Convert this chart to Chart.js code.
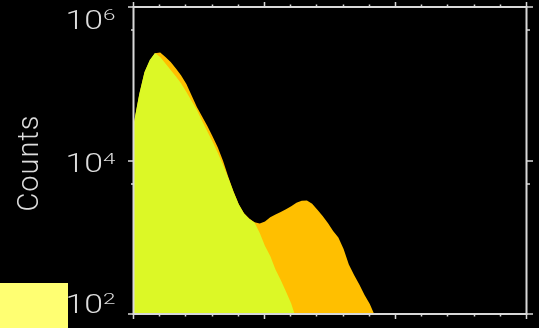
<!DOCTYPE html>
<html>
<head>
<meta charset="utf-8">
<script src="https://cdn.jsdelivr.net/npm/chart.js@4/dist/chart.umd.min.js"></script>
<style>
  html, body { margin: 0; padding: 0; background: #000; }
  canvas { display: block; }
</style>
</head>
<body>
<canvas id="hist" width="539" height="328"></canvas>
<script>
// Histogram channels (bin starts)
const channels = [0, 4, 8, 12, 16, 20, 24, 28, 32, 36, 40, 44, 48, 52, 56, 60, 64, 68, 72, 76,
  80, 84, 88, 92, 96, 100, 104, 108, 112, 116, 120, 124, 128, 132, 136, 140, 144, 148, 152,
  156, 160, 164, 168, 172, 176, 180, 184];

// All events (drawn behind)
const countsAll = [31000, 72000, 140000, 200000, 249000, 255000, 223000, 192000, 158000,
  128000, 99300, 70100, 49800, 37400, 28100, 20500, 14800, 9850, 6100, 3950, 2700, 2060,
  1750, 1570, 1510, 1600, 1820, 1980, 2130, 2310, 2530, 2810, 3000, 3010, 2740, 2290, 1890,
  1530, 1210, 995, 703, 442, 322, 242, 177, 135, 94];

// Gated events (drawn in front)
const countsGated = [31800, 73500, 142000, 204000, 252000, 223000, 184000, 151000, 124000,
  101000, 78100, 59600, 45500, 32700, 23900, 17600, 12500, 8740, 5920, 3890, 2670, 2040,
  1730, 1560, 1140, 769, 570, 380, 277, 196, 137, 84];

// Axis ticks
const yMajorTicks = [1e2, 1e4, 1e6];
const yTickExponents = ['2', '4', '6'];
const yMinorTicks = [5e3, 5e5];
const xRange = [0, 300];
const xMinorStep = 20;
const xMajorStep = 100;
const yTitle = 'Counts';

const toPoints = (vals) => vals.map((v, i) => ({ x: channels[i], y: v }));

const FRAME = '#d9d9d9';
const TEXT = '#dcdcdc';
const FONT = '"Roboto", "DejaVu Sans", sans-serif';

const frameAndLabels = {
  id: 'frameAndLabels',
  beforeDraw(chart) {
    const { ctx, width, height } = chart;
    ctx.save();
    ctx.fillStyle = '#000';
    ctx.fillRect(0, 0, width, height);
    ctx.restore();
  },
  afterDraw(chart) {
    const { ctx, height, chartArea: { left, right, top, bottom }, scales: { x, y } } = chart;
    ctx.save();
    ctx.strokeStyle = FRAME;
    ctx.lineWidth = 2;
    ctx.strokeRect(left - 0.5, top, right - left, bottom - top);

    // x ticks, top and bottom, pointing outward
    ctx.lineWidth = 1.5;
    for (let v = xRange[0]; v <= xRange[1]; v += xMinorStep) {
      const px = Math.round(x.getPixelForValue(v)) - 0.5;
      const major = v % xMajorStep === 0;
      const len = major ? 5 : 2.5;
      ctx.beginPath();
      ctx.moveTo(px, top); ctx.lineTo(px, top - len);
      ctx.moveTo(px, bottom); ctx.lineTo(px, bottom + len);
      ctx.stroke();
    }
    // y ticks, left and right
    const yTick = (v, len) => {
      const py = Math.round(y.getPixelForValue(v));
      ctx.beginPath();
      ctx.moveTo(left, py); ctx.lineTo(left - len, py);
      ctx.moveTo(right, py); ctx.lineTo(right + len, py);
      ctx.stroke();
    };
    yMajorTicks.forEach(v => yTick(v, 6));
    yMinorTicks.forEach(v => yTick(v, 3));

    // y tick labels: 10 with superscript exponent
    ctx.fillStyle = TEXT;
    ctx.textBaseline = 'alphabetic';
    yMajorTicks.forEach((v, i) => {
      const py = y.getPixelForValue(v);
      const cy = Math.min(Math.max(py + 2, top + 12), bottom - 11);
      const base = cy + 9.5;
      ctx.save();
      ctx.translate(103, base);
      ctx.scale(1.3, 1);
      ctx.font = '300 26px ' + FONT;
      ctx.textAlign = 'right';
      ctx.fillText('10', 0, 0);
      ctx.restore();
      ctx.save();
      ctx.translate(103, base - 8.5);
      ctx.scale(1.6, 1);
      ctx.font = '300 14px ' + FONT;
      ctx.textAlign = 'left';
      ctx.fillText(yTickExponents[i], 0, 0);
      ctx.restore();
    });

    // y title
    ctx.save();
    ctx.translate(30.5, 163);
    ctx.rotate(-Math.PI / 2);
    ctx.font = '300 29px ' + FONT;
    ctx.textAlign = 'center';
    ctx.textBaseline = 'middle';
    ctx.letterSpacing = '1px';
    ctx.fillText(yTitle, 0, 0);
    ctx.restore();

    // gate colour swatch
    ctx.fillStyle = '#ffff72';
    ctx.fillRect(0, 283, 68, height - 283);
    ctx.restore();
  }
};

new Chart(document.getElementById('hist'), {
  type: 'line',
  data: {
    datasets: [
      {
        label: 'All',
        data: toPoints(countsAll),
        fill: 'start',
        backgroundColor: '#ffbf00',
        borderWidth: 0,
        pointRadius: 0,
        tension: 0,
        order: 2
      },
      {
        label: 'Gated',
        data: toPoints(countsGated),
        fill: 'start',
        backgroundColor: '#dcf826',
        borderWidth: 0,
        pointRadius: 0,
        tension: 0,
        order: 1
      }
    ]
  },
  options: {
    responsive: false,
    animation: false,
    events: [],
    layout: { padding: { left: 134, right: 12, top: 7, bottom: 14 } },
    plugins: { legend: { display: false }, tooltip: { enabled: false } },
    scales: {
      x: { type: 'linear', min: xRange[0], max: xRange[1], display: false },
      y: { type: 'logarithmic', min: 1e2, max: 1e6, display: false }
    }
  },
  plugins: [frameAndLabels]
});
</script>
</body>
</html>
